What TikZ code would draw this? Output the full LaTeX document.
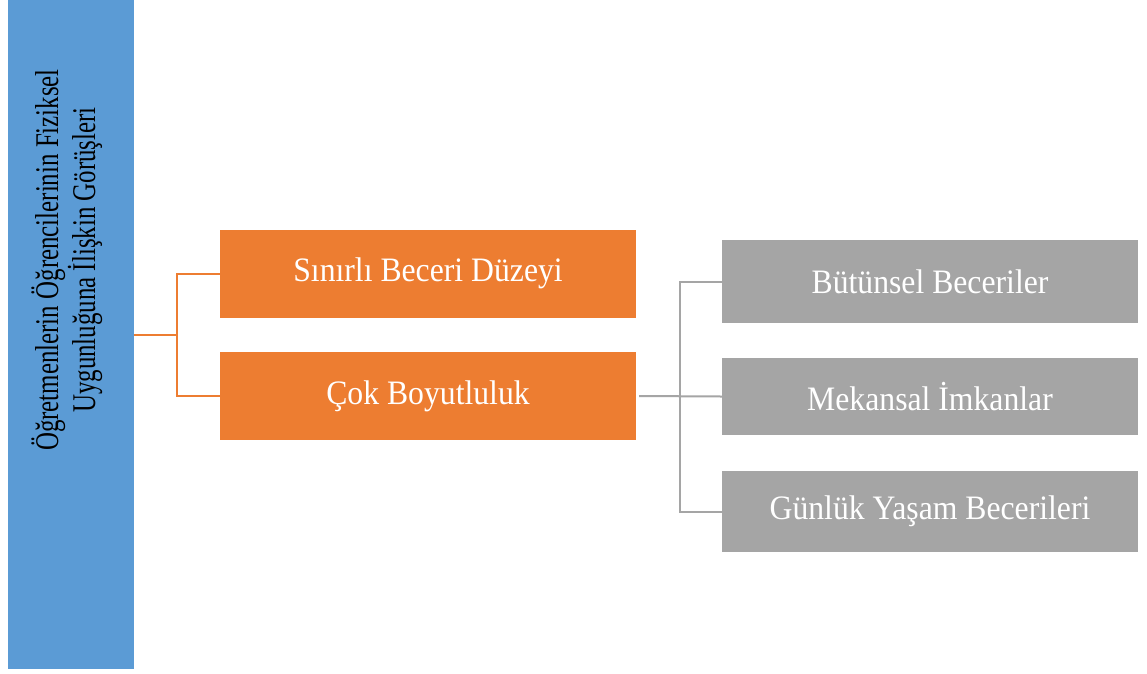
\documentclass[tikz,border=0pt]{standalone}
\usepackage{fontspec}
\setmainfont{Liberation Serif}
\definecolor{cblue}{HTML}{5B9BD5}
\definecolor{corange}{HTML}{ED7D31}
\definecolor{cgray}{HTML}{A5A5A5}
\newcommand{\boxtxt}[1]{\scalebox{1}[1.08]{\fontsize{31.7}{34}\selectfont #1}}
\begin{document}
\begin{tikzpicture}[x=1pt,y=-1pt,
  box/.style={draw=none,minimum width=416pt,inner sep=0pt,text=white},
  obox/.style={box,fill=corange,minimum height=88pt},
  gbox/.style={box,fill=cgray,minimum height=81pt},
  oline/.style={draw=corange,line width=2pt},
  gline/.style={draw=cgray,line width=2pt}]
\useasboundingbox (0,0) rectangle (1147,673);
\fill[white] (0,0) rectangle (1147,673);
\node[fill=cblue,minimum width=126pt,minimum height=669pt,inner sep=0pt,anchor=north west] (root) at (8,0) {};
\node[rotate=90,inner sep=0pt] (roottext) at (68,260)
  {\scalebox{1}[1.33]{\fontsize{24.9}{24}\selectfont\begin{tabular}{@{}c@{}}Öğretmenlerin Öğrencilerinin Fiziksel\\Uygunluğuna İlişkin Görüşleri\end{tabular}}};
\node[obox] (a) at (428,273.5) {\boxtxt{Sınırlı Beceri Düzeyi}};
\node[obox] (b) at (428,396) {\boxtxt{Çok Boyutluluk}};
\node[gbox,minimum height=83pt] (c) at (930,281.5) {\boxtxt{Bütünsel Beceriler}};
\node[gbox,minimum height=77pt] (d) at (930,396.5) {\boxtxt{Mekansal İmkanlar}};
\node[gbox] (e) at (930,511.5) {\boxtxt{Günlük Yaşam Becerileri}};
\coordinate (r) at (root.east |- 0,335);
\coordinate (oj) at (177,335);
\draw[oline] (r) -- (oj);
\draw[oline] (a.west) -| (oj) |- (b.west);
\coordinate (gj) at (680,396.5);
\draw[gline] ([xshift=3pt]b.east) -- (d.west);
\draw[gline] (c.west) -| (gj) |- (e.west);
\end{tikzpicture}
\end{document}
